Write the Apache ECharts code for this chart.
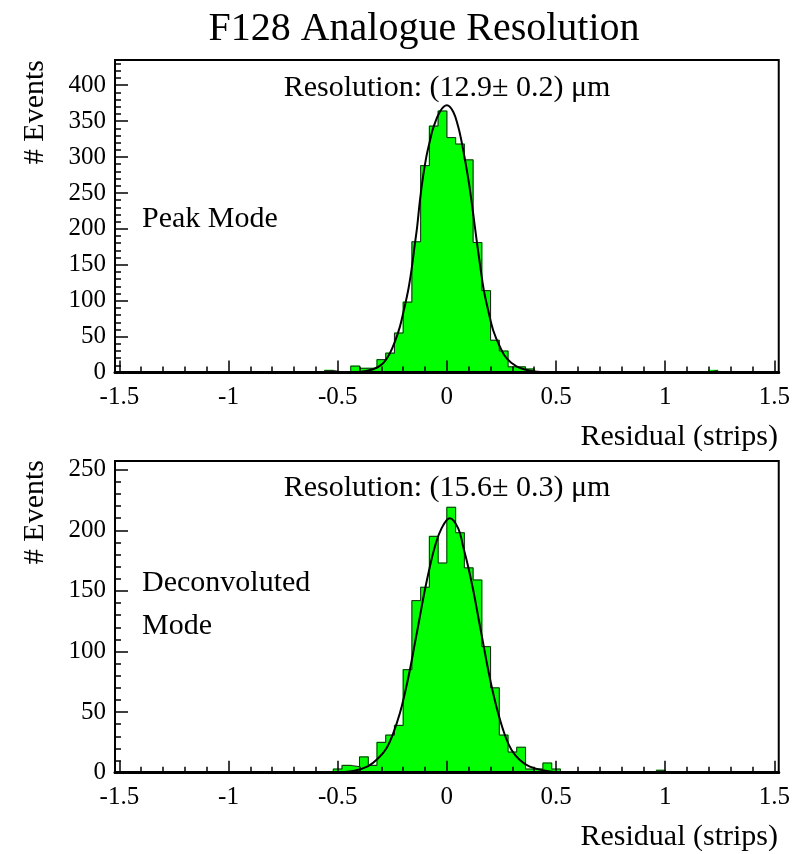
<!DOCTYPE html>
<html><head><meta charset="utf-8">
<script src="https://cdn.jsdelivr.net/npm/echarts@6/dist/echarts.min.js"></script>
<style>html,body{margin:0;padding:0;background:#fff}#c{width:793px;height:854px}</style>
</head><body><div id="c"></div>
<script>
// ---------------- data ----------------
const chartTitle = 'F128 Analogue Resolution';
const xTitle = 'Residual (strips)';
const yTitle = '# Events';
const panelLabels = ['Peak Mode', 'Deconvoluted\nMode'];
const resolutionTexts = ['Resolution: (12.9\u00b1 0.2) \u03bcm', 'Resolution: (15.6\u00b1 0.3) \u03bcm'];

// histogram binning (76 bins from -1.52 to 1.52)
const binMin = -1.52;
const binWidth = 0.04;

const peakCounts = [
  0,0,0,0,0,0,0,0,0,0,
  0,0,1,0,0,1,0,0,0,0,
  1,0,0,0,3,1,1,9,6,6,
  18,27,55,98,182,288,343,364,327,318,
  296,181,114,45,30,8,8,5,1,1,
  0,0,1,0,1,1,0,0,0,0,
  0,0,1,0,0,0,0,1,3,0,
  0,0,0,0,0,0
];
const deconvCounts = [
  0,0,0,0,0,0,0,0,0,0,
  0,0,0,0,1,0,0,0,1,0,
  0,0,0,0,0,3,6,5,13,6,
  25,31,39,85,142,153,195,173,219,198,
  169,159,104,70,31,17,21,3,3,8,
  3,0,0,0,0,0,0,0,0,0,
  0,0,2,0,0,0,0,0,0,0,
  0,0,0,0,0,0
];

// fitted curves, points [x, events]
const peakFit = [
  [-1.52,0],[-0.6,0],[-0.45,0.5],[-0.399,1],[-0.338,4.6],[-0.292,13],[-0.261,27],[-0.238,43],
  [-0.215,64],[-0.197,87],[-0.177,115],[-0.162,143],[-0.147,178],[-0.136,203],[-0.124,238],
  [-0.108,275],[-0.093,302],[-0.078,322],[-0.063,340],[-0.032,363],[0,372],[0.029,363],
  [0.052,342],[0.067,322],[0.082,298],[0.102,262],[0.121,220],[0.136,185],[0.151,152],
  [0.169,115],[0.189,87],[0.212,59],[0.243,36],[0.273,20],[0.319,8.6],[0.380,2.6],
  [0.45,0.5],[0.6,0],[1.52,0]
];
const deconvFit = [
  [-1.52,0],[-0.6,0],[-0.505,0.3],[-0.429,1.4],[-0.360,5.5],[-0.3145,11.9],[-0.2763,20.1],
  [-0.2458,32.5],[-0.2153,49],[-0.1924,65.5],[-0.1695,84.7],[-0.1466,106.7],[-0.1237,128.7],
  [-0.1008,150.7],[-0.0779,170],[-0.055,186.5],[-0.0244,201.6],[0.0137,210],[0.052,201.6],
  [0.0748,186.5],[0.0977,170],[0.1206,150.7],[0.1435,128.7],[0.1664,106.7],[0.1893,84.7],
  [0.212,65.5],[0.235,49],[0.2657,31.1],[0.2963,18.7],[0.334,10.5],[0.380,5],[0.457,1.4],
  [0.518,0.3],[0.6,0],[1.52,0]
];

// axes
const xMin = -1.52, xMax = 1.52;
const xMajorTicks = [-1.5,-1,-0.5,0,0.5,1,1.5];
const xMinorTicks = [-1.5,-1.4,-1.3,-1.2,-1.1,-1,-0.9,-0.8,-0.7,-0.6,-0.5,-0.4,-0.3,-0.2,-0.1,0,
  0.1,0.2,0.3,0.4,0.5,0.6,0.7,0.8,0.9,1,1.1,1.2,1.3,1.4,1.5];
const peakYMax = 435;
const peakYMajor = [0,50,100,150,200,250,300,350,400];
const peakYMinor = [10,20,30,40,50,60,70,80,90,100,110,120,130,140,150,160,170,180,190,200,
  210,220,230,240,250,260,270,280,290,300,310,320,330,340,350,360,370,380,390,400,410,420,430];
const deconvYMax = 257.2;
const deconvYMajor = [0,50,100,150,200,250];
const deconvYMinor = [10,20,30,40,50,60,70,80,90,100,110,120,130,140,150,160,170,180,190,200,
  210,220,230,240,250];

// ---------------- chart ----------------
const FONT = '"Liberation Serif","Times New Roman",serif';
const panels = [
  {counts: peakCounts, fit: peakFit, yMax: peakYMax, yMajor: peakYMajor, yMinor: peakYMinor,
   grid: {left:115, top:60, width:664, height:312.6}},
  {counts: deconvCounts, fit: deconvFit, yMax: deconvYMax, yMajor: deconvYMajor, yMinor: deconvYMinor,
   grid: {left:115, top:461, width:664, height:311.7}}
];

const grids = [], xAxes = [], yAxes = [], series = [];
panels.forEach((p, i) => {
  grids.push(Object.assign({show:true, borderColor:'#000', borderWidth:2, backgroundColor:'rgba(0,0,0,0)'}, p.grid));
  const ax = 2*i;
  xAxes.push({type:'value', gridIndex:i, min:xMin, max:xMax, position:'bottom', z:10,
    axisLine:{show:true, onZero:false, lineStyle:{color:'#000', width:3}},
    axisTick:{show:true, inside:true, length:12, customValues:xMajorTicks, lineStyle:{color:'#000', width:1.5}},
    axisLabel:{show:true, customValues:xMajorTicks, margin:12, color:'#000', fontSize:25, fontFamily:FONT},
    splitLine:{show:false}});
  xAxes.push({type:'value', gridIndex:i, min:xMin, max:xMax, position:'bottom', z:10,
    axisLine:{show:false, onZero:false},
    axisTick:{show:true, inside:true, length:6, customValues:xMinorTicks, lineStyle:{color:'#000', width:1.5}},
    axisLabel:{show:false}, splitLine:{show:false}});
  yAxes.push({type:'value', gridIndex:i, min:0, max:p.yMax, position:'left', z:10,
    axisLine:{show:true, onZero:false, lineStyle:{color:'#000', width:2}},
    axisTick:{show:true, inside:true, length:13, customValues:p.yMajor, lineStyle:{color:'#000', width:1.5}},
    axisLabel:{show:true, customValues:p.yMajor, margin:9, color:'#000', fontSize:25, fontFamily:FONT},
    splitLine:{show:false}});
  yAxes.push({type:'value', gridIndex:i, min:0, max:p.yMax, position:'left', z:10,
    axisLine:{show:false, onZero:false},
    axisTick:{show:true, inside:true, length:6, customValues:p.yMinor, lineStyle:{color:'#000', width:1.5}},
    axisLabel:{show:false}, splitLine:{show:false}});

  const barData = p.counts.map((c, k) => [binMin + k*binWidth, binMin + (k+1)*binWidth, c]).filter(d => d[2] > 0);
  series.push({type:'custom', xAxisIndex:ax, yAxisIndex:ax, data:barData, encode:{x:[0,1], y:2}, z:2, silent:true,
    renderItem: (params, api) => {
      const p0 = api.coord([api.value(0), api.value(2)]);
      const p1 = api.coord([api.value(1), 0]);
      return {type:'rect', shape:{x:p0[0], y:p0[1], width:p1[0]-p0[0], height:p1[1]-p0[1]},
        style:{fill:'#00ff00', stroke:'#00ff00', lineWidth:1.2}};
    }});
  const stepData = p.counts.map((c, k) => [binMin + k*binWidth, c]);
  stepData.push([binMin + p.counts.length*binWidth, p.counts[p.counts.length-1]]);
  series.push({type:'line', xAxisIndex:ax, yAxisIndex:ax, data:stepData, step:'end', showSymbol:false, z:3, silent:true,
    lineStyle:{color:'#222', width:1}});
  series.push({type:'line', xAxisIndex:ax, yAxisIndex:ax, data:p.fit, smooth:0.4, showSymbol:false, z:4, silent:true,
    lineStyle:{color:'#000', width:2}});
});

const txt = (x, y, text, size, align, extra) => Object.assign({type:'text', x:x, y:y, z:20, silent:true,
  style:{text:text, fill:'#000', fontSize:size, fontFamily:FONT, align:align, textAlign:align,
    verticalAlign:'middle', textVerticalAlign:'middle', lineHeight:43}}, extra || {});

const graphics = [
  txt(424, 29, chartTitle, 40, 'center'),
  txt(447, 88, resolutionTexts[0], 30, 'center'),
  txt(447, 488, resolutionTexts[1], 30, 'center'),
  txt(142, 219, panelLabels[0], 30, 'left'),
  txt(142, 605, panelLabels[1], 30, 'left'),
  txt(778, 437, xTitle, 30, 'right'),
  txt(778, 837, xTitle, 30, 'right'),
  txt(35, 60, yTitle, 30, 'right', {rotation: Math.PI/2}),
  txt(35, 460, yTitle, 30, 'right', {rotation: Math.PI/2})
];

const chart = echarts.init(document.getElementById('c'), null, {renderer:'canvas'});
chart.setOption({
  animation:false,
  backgroundColor:'#fff',
  grid:grids, xAxis:xAxes, yAxis:yAxes, series:series, graphic:graphics
});
</script></body></html>
